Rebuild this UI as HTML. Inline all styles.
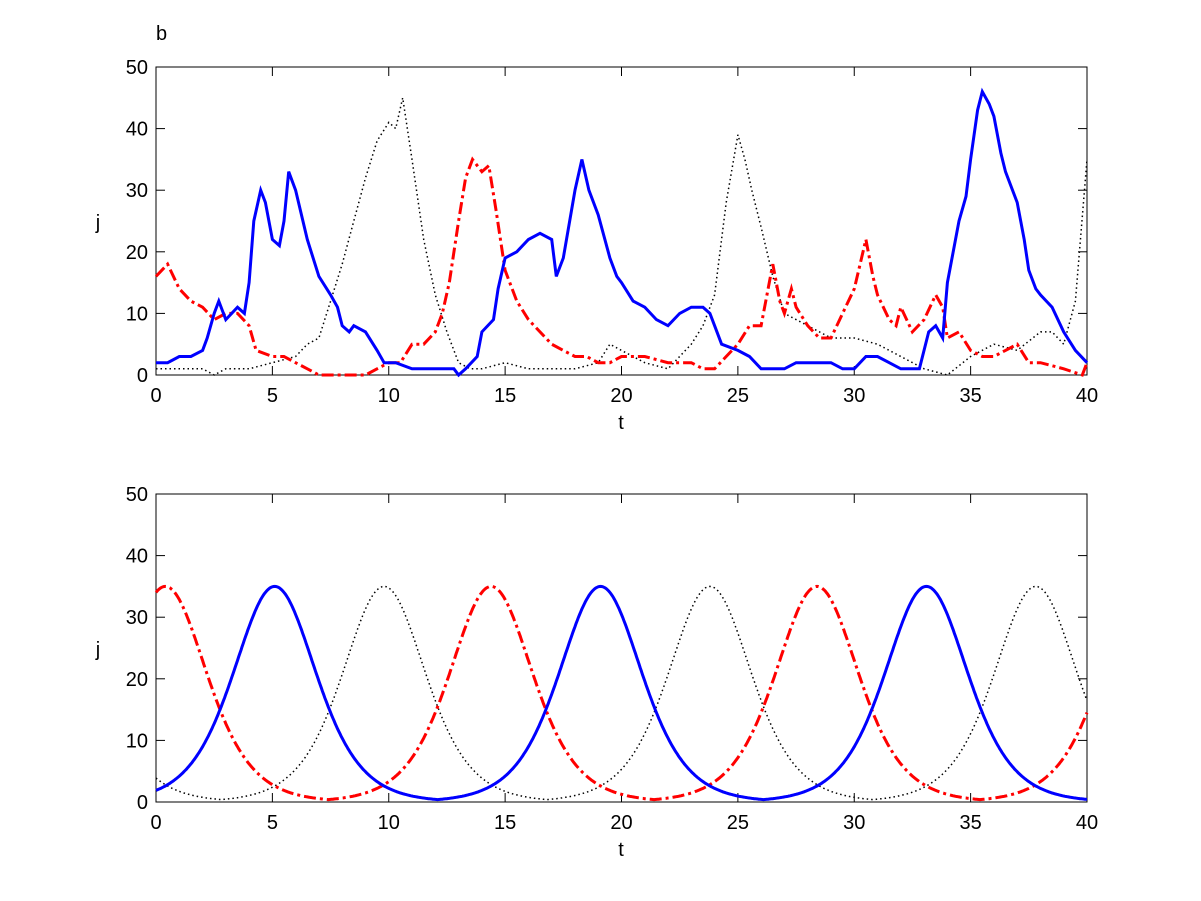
<!DOCTYPE html>
<html><head><meta charset="utf-8"><style>body{margin:0;background:#fff}svg{display:block}text{font-family:"Liberation Sans",sans-serif;font-size:20px;fill:#000}</style></head>
<body>
<svg id="s" width="1201" height="901" xmlns="http://www.w3.org/2000/svg"></svg>
<script>
const s=document.getElementById('s');let h='';
const X0=156,X1=1087;
function axes(yTop,yBot){
 const sx=t=>X0+(X1-X0)*t/40, sy=v=>yBot-(yBot-yTop)*v/50;
 h+=`<rect x="${X0}" y="${yTop}" width="${X1-X0}" height="${yBot-yTop}" fill="none" stroke="#000" stroke-width="1"/>`;
 for(let t=0;t<=40;t+=5){const x=sx(t);h+=`<line x1="${x}" y1="${yBot}" x2="${x}" y2="${yBot-9}" stroke="#000"/><line x1="${x}" y1="${yTop}" x2="${x}" y2="${yTop+9}" stroke="#000"/><text x="${x}" y="${yBot+27}" text-anchor="middle">${t}</text>`;}
 for(let v=0;v<=50;v+=10){const y=sy(v);h+=`<line x1="${X0}" y1="${y}" x2="${X0+9}" y2="${y}" stroke="#000"/><line x1="${X1}" y1="${y}" x2="${X1-9}" y2="${y}" stroke="#000"/><text x="${X0-8}" y="${y+7}" text-anchor="end">${v}</text>`;}
 h+=`<text x="621" y="${yBot+54}" text-anchor="middle">t</text><text x="98" y="${(yTop+yBot)/2+8}" text-anchor="middle">j</text>`;
 return [sx,sy];
}
function step(pts,sx,sy,st){let d='';pts.forEach((p,i)=>{d+=(i?'L':'M')+sx(p[0]).toFixed(1)+','+sy(p[1]).toFixed(1)});h+=`<path d="${d}" fill="none" ${st}/>`;}
const blue=[[0,2],[0.5,2],[1,3],[1.5,3],[2,4],[2.2,6],[2.5,10],[2.7,12],[3,9],[3.5,11],[3.8,10],[4,15],[4.2,25],[4.5,30],[4.7,28],[5,22],[5.3,21],[5.5,25],[5.7,33],[6,30],[6.5,22],[7,16],[7.5,13],[7.8,11],[8,8],[8.3,7],[8.5,8],[9,7],[9.5,4],[9.8,2],[10.3,2],[11,1],[12,1],[12.8,1],[13,0],[13.3,1],[13.8,3],[14,7],[14.5,9],[14.7,14],[15,19],[15.5,20],[16,22],[16.5,23],[17,22],[17.2,16],[17.5,19],[18,30],[18.3,35],[18.6,30],[19,26],[19.5,19],[19.8,16],[20,15],[20.5,12],[21,11],[21.5,9],[22,8],[22.5,10],[23,11],[23.5,11],[23.8,10],[24,8],[24.3,5],[25,4],[25.5,3],[26,1],[27,1],[27.5,2],[28,2],[29,2],[29.5,1],[30,1],[30.5,3],[31,3],[32,1],[32.8,1],[33.2,7],[33.5,8],[33.8,6],[34,15],[34.5,25],[34.8,29],[35,35],[35.3,43],[35.5,46],[35.8,44],[36,42],[36.3,36],[36.5,33],[37,28],[37.3,22],[37.5,17],[37.8,14],[38,13],[38.5,11],[39,7],[39.5,4],[40,2]];
const red=[[0,16],[0.5,18],[1,14],[1.5,12],[2,11],[2.5,9],[3,10],[3.5,10],[4,8],[4.3,4],[5,3],[5.5,3],[6,2],[6.5,1],[7,0],[9,0],[9.5,1],[10,2],[10.5,2],[11,5],[11.5,5],[12,7],[12.3,10],[12.6,15],[13,25],[13.3,32],[13.6,35],[14,33],[14.3,34],[14.6,27],[15,17],[15.5,12],[16,9],[16.5,7],[17,5],[17.5,4],[18,3],[18.5,3],[19,2],[19.5,2],[20,3],[21,3],[22,2],[22.5,2],[23,2],[23.5,1],[24,1],[24.5,3],[25,5],[25.5,8],[26,8],[26.5,18],[26.8,12],[27,10],[27.3,14],[27.5,11],[28,8],[28.5,6],[29,6],[29.5,10],[30,14],[30.5,22],[30.8,16],[31,13],[31.5,9],[31.8,8],[32,11],[32.5,7],[33,9],[33.5,13],[33.8,11],[34,6],[34.5,7],[35,4],[35.5,3],[36,3],[36.5,4],[37,5],[37.5,2],[38,2],[39,1],[39.8,0],[40,2]];
const blk=[[0,1],[1,1],[2,1],[2.5,0],[3,1],[4,1],[5,2],[6,3],[6.5,5],[7,6],[7.5,12],[8,18],[8.5,25],[9,32],[9.5,38],[10,41],[10.3,40],[10.6,45],[11,35],[11.5,22],[12,13],[12.5,7],[13,2],[13.5,1],[14,1],[15,2],[16,1],[17,1],[18,1],[19,2],[19.5,5],[20,4],[21,2],[22,1],[23,5],[23.5,8],[24,13],[24.5,28],[25,39],[25.3,35],[25.6,30],[26,24],[26.5,16],[27,10],[28,8],[29,6],[30,6],[31,5],[32,3],[33,1],[34,0],[35,3],[36,5],[37,4],[38,7],[38.5,7],[39,5],[39.5,12],[40,35]];
let [sx,sy]=axes(67,375);
h+=`<text x="156" y="40">b</text>`;
step(blk,sx,sy,'stroke="#000" stroke-width="1.5" stroke-dasharray="1.5,3"');
step(red,sx,sy,'stroke="#f00" stroke-width="3" stroke-dasharray="12,4,3,4"');
step(blue,sx,sy,'stroke="#00f" stroke-width="3"');
[sx,sy]=axes(494,802);
function osc(p){const a=[];for(let t=0;t<=40.001;t+=0.05){let v=0;for(let k=-4;k<=4;k++){const d=t-(p+14*k);v=Math.max(v,35/Math.pow(Math.cosh(0.42*d),2));}a.push([t,v]);}return a;}
step(osc(9.8),sx,sy,'stroke="#000" stroke-width="1.5" stroke-dasharray="1.5,3"');
step(osc(0.4),sx,sy,'stroke="#f00" stroke-width="3" stroke-dasharray="12,4,3,4"');
step(osc(5.1),sx,sy,'stroke="#00f" stroke-width="3"');
s.innerHTML=h;
</script>
</body></html>
